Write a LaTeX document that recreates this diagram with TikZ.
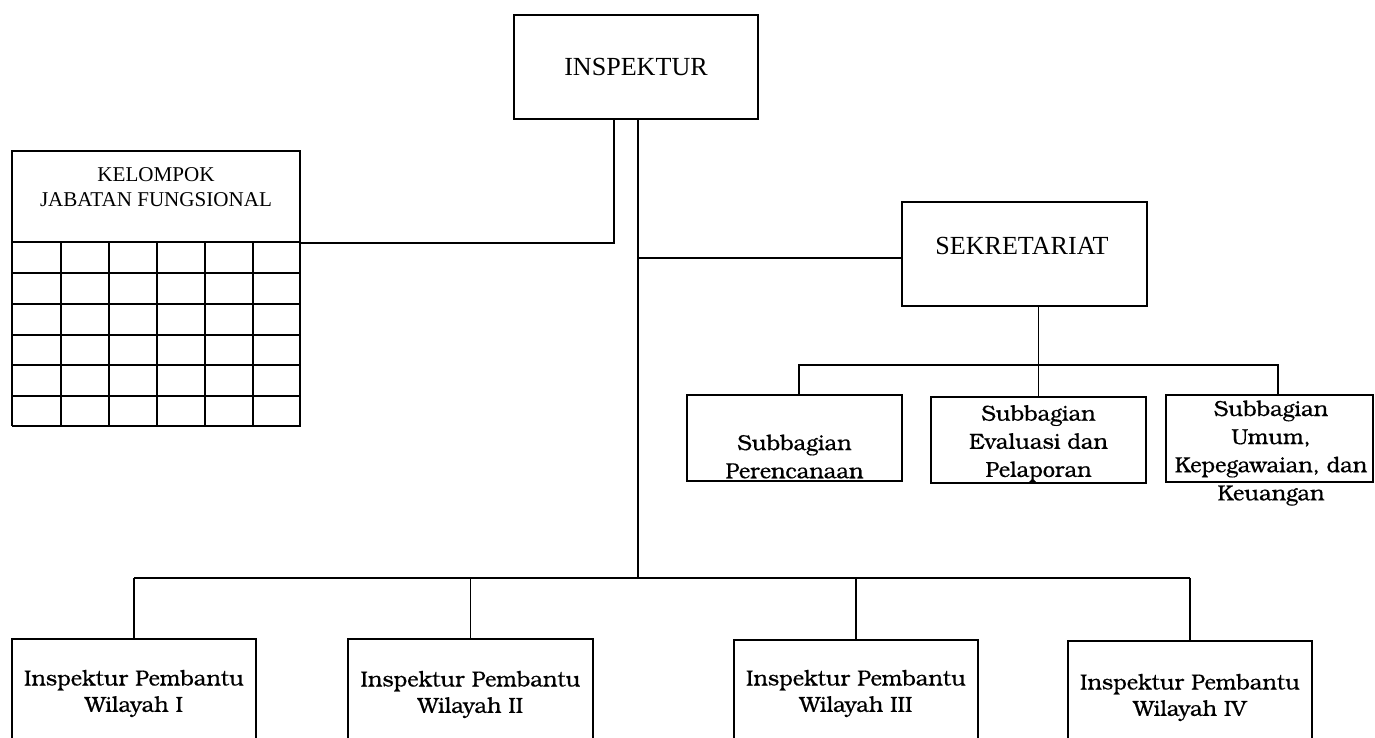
\documentclass[tikz,border=0pt]{standalone}
\usepackage{fontspec}
\setmainfont{Liberation Serif}
\newfontfamily\bk[RawFeature={embolden=0.5}]{TeX Gyre Bonum}
\begin{document}
\begin{tikzpicture}[x=0.02cm,y=-0.02cm,line width=1pt,
  box/.style 2 args={draw,inner sep=0pt,minimum width=#1*0.02cm,minimum height=#2*0.02cm},
  big/.style={font=\fontsize{14.85}{17}\selectfont},
  small/.style={font=\fontsize{12}{14.2}\selectfont,align=center},
  bkt/.style={font=\bk\fontsize{12.4}{16}\selectfont,align=center,inner sep=0pt},
  bkb/.style={font=\bk\fontsize{12.4}{15}\selectfont,align=center,inner sep=0pt}]
\useasboundingbox (0,0) rectangle (1375,737);
\clip (0,0) rectangle (1375,737);
% top
\node[box={244}{104},big] (insp) at (636,67) {INSPEKTUR};
\node[box={288}{91}] (kjf) at (156,196.5) {};
\node[small] (kjft) at (156,187.5) {KELOMPOK\\JABATAN FUNGSIONAL};
\foreach \yy in {273,304,335,365,396,426} \draw (12,\yy) -- (301,\yy);
\foreach \xx in {12,61,109,157,205,253,300} \draw (\xx,242) -- (\xx,426);
\node[box={245}{104}] (sek) at (1024.5,254) {};
\node[big] (sekt) at (1022,246) {SEKRETARIAT};
% subbagian
\node[box={215}{86}] (s1) at (794.5,438) {};
\node[box={215}{86}] (s2) at (1038.5,440) {};
\node[box={207}{87}] (s3) at (1269.5,438.5) {};
\node[bkt] (s1t) at (794.5,456.5) {Subbagian\\Perencanaan};
\node[bkt] (s2t) at (1038.5,443.5) {Subbagian\\Evaluasi dan\\Pelaporan};
\begin{scope}
\clip (1166,395) rectangle (1373,506);
\node[bkt] (s3t) at (1271,453) {Subbagian\\Umum,\\Kepegawaian, dan\\Keuangan};
\end{scope}
% bottom
\node[box={244}{140}] (ib1) at (134,709) {};
\node[box={245}{140}] (ib2) at (470.5,709) {};
\node[box={244}{140}] (ib3) at (856,710) {};
\node[box={244}{140}] (ib4) at (1190,711) {};
\node[bkb] (ib1t) at (134,693.5) {Inspektur Pembantu\\Wilayah I};
\node[bkb] (ib2t) at (470.5,694.5) {Inspektur Pembantu\\Wilayah II};
\node[bkb] (ib3t) at (856,693.5) {Inspektur Pembantu\\Wilayah III};
\node[bkb] (ib4t) at (1190,697.5) {Inspektur Pembantu\\Wilayah IV};
% connectors
\coordinate (j) at (638,578);
\coordinate (sb) at (1038,365);
\draw ([xshift=-0.44cm]insp.south) |- (kjf.south east);
\draw ([xshift=0.04cm]insp.south) -- (j);
\coordinate (sw) at ([yshift=-0.08cm]sek.west);
\draw (sw) -- (sw -| j);
\draw (s2.north) -- (s2.north |- sek.south);
\draw ([xshift=0.09cm]s1.north) -- ([xshift=0.09cm]s1.north |- sb) -- ([xshift=0.17cm]s3.north |- sb) -- ([xshift=0.17cm]s3.north);
\draw (ib1.north |- j) -- (ib4.north |- j);
\foreach \n in {ib1,ib2,ib3,ib4} \draw (\n.north) -- (\n.north |- j);
\end{tikzpicture}
\end{document}
